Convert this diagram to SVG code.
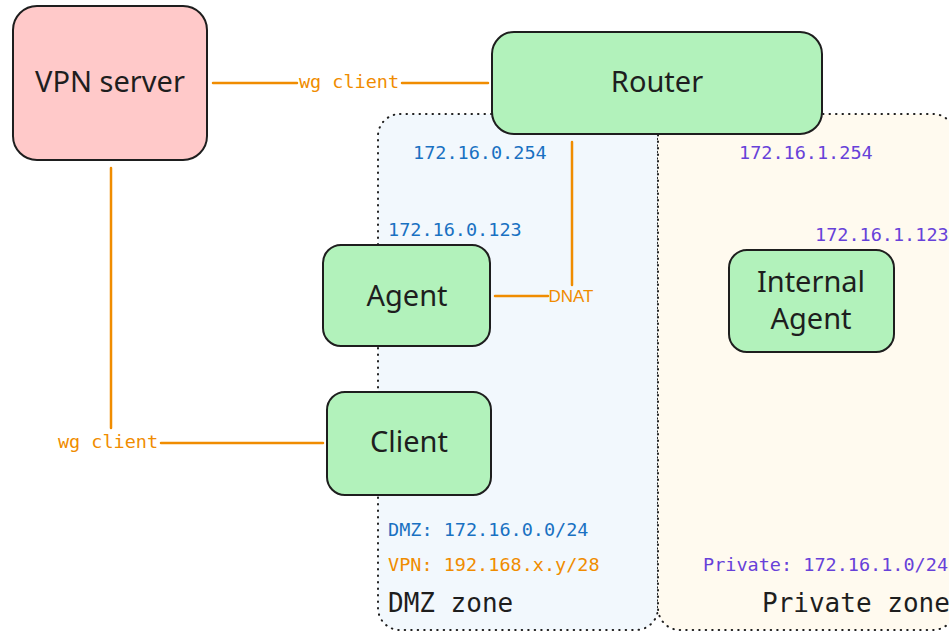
<svg xmlns="http://www.w3.org/2000/svg" width="949" height="632" viewBox="0 0 949 632">
<defs>
<style>
.zone{stroke:#1e1e1e;stroke-width:2;stroke-dasharray:0.5 6;stroke-linecap:round;}
.node{stroke:#1e1e1e;stroke-width:2;}
.green{fill:#b2f2bb;}
.pink{fill:#ffc9c9;}
.lbl{font-family:"Noto Sans","Liberation Sans",sans-serif;font-size:29px;fill:#1e1e1e;text-anchor:middle;}
.mono{font-family:"DejaVu Sans Mono","Liberation Mono",monospace;font-size:18.5px;}
.blue{fill:#1971c2;}
.purple{fill:#6741d9;}
.orange{fill:#f08c00;}
.zlbl{font-family:"DejaVu Sans Mono","Liberation Mono",monospace;font-size:26px;fill:#1e1e1e;}
.conn{stroke:#f08c00;stroke-width:2.5;fill:none;stroke-linecap:round;}
</style>
</defs>
<rect width="949" height="632" fill="#ffffff"/>
<g id="dmz-zone">
<rect class="zone" x="378" y="114" width="280" height="516" rx="22" fill="#f2f8fd"/>
<text class="mono blue" x="413" y="159">172.16.0.254</text>
<text class="mono blue" x="388" y="236">172.16.0.123</text>
<text class="mono blue" x="388" y="536">DMZ: 172.16.0.0/24</text>
<text class="mono orange" x="388" y="571">VPN: 192.168.x.y/28</text>
<text class="zlbl" x="388" y="612">DMZ zone</text>
</g>
<g id="private-zone">
<rect class="zone" x="658" y="114" width="297" height="516" rx="22" fill="#fffaef"/>
<text class="mono purple" x="739" y="159">172.16.1.254</text>
<text class="mono purple" x="815" y="241">172.16.1.123</text>
<text class="mono purple" x="703" y="571">Private: 172.16.1.0/24</text>
<text class="zlbl" x="762" y="612">Private zone</text>
</g>
<g id="connectors">
<line class="conn" x1="213" y1="83" x2="297" y2="83"/>
<line class="conn" x1="402" y1="83" x2="488" y2="83"/>
<text class="mono orange" x="349" y="88" text-anchor="middle">wg client</text>
<line class="conn" x1="111" y1="168" x2="111" y2="428"/>
<line class="conn" x1="161" y1="443" x2="323" y2="443"/>
<text class="mono orange" x="108" y="448" text-anchor="middle">wg client</text>
<line class="conn" x1="572" y1="142" x2="572" y2="285"/>
<line class="conn" x1="495" y1="296" x2="548" y2="296"/>
<text x="571" y="302" text-anchor="middle" font-family="Liberation Sans Narrow,Liberation Sans,sans-serif" font-size="17" fill="#f08c00">DNAT</text>
</g>
<g id="vpn-server">
<rect class="node pink" x="13" y="6" width="194" height="154" rx="24"/>
<text class="lbl" x="110" y="92">VPN server</text>
</g>
<g id="router">
<rect class="node green" x="492" y="32" width="330" height="102" rx="22"/>
<text class="lbl" x="657" y="92">Router</text>
</g>
<g id="agent">
<rect class="node green" x="323" y="245" width="167" height="101" rx="18"/>
<text class="lbl" x="407" y="306">Agent</text>
</g>
<g id="client">
<rect class="node green" x="327" y="392" width="164" height="103" rx="18"/>
<text class="lbl" x="409" y="452">Client</text>
</g>
<g id="internal-agent">
<rect class="node green" x="729" y="250" width="165" height="102" rx="18"/>
<text class="lbl" x="811" y="292">Internal</text>
<text class="lbl" x="811" y="329">Agent</text>
</g>
</svg>
